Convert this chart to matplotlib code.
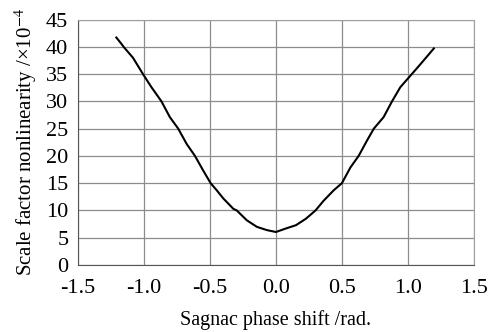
"""Scale factor nonlinearity versus Sagnac phase shift."""
import matplotlib

matplotlib.use("Agg")
import matplotlib.pyplot as plt

# values
phase = [-1.21, -1.17, -1.155, -1.084, -1.008, -0.944, -0.868, -0.804, -0.741,
         -0.677, -0.614, -0.551, -0.495, -0.449, -0.399, -0.323, -0.297, -0.221,
         -0.145, -0.069, 0.0, 0.076, 0.152, 0.228, 0.30, 0.362, 0.438, 0.50,
         0.565, 0.627, 0.69, 0.742, 0.816, 0.88, 0.943, 1.03, 1.095, 1.197]
nonlin = [41.7, 40.5, 40.0, 38.0, 35.0, 32.6, 30.0, 27.1, 25.0,
          22.2, 20.0, 17.3, 15.0, 13.7, 12.2, 10.3, 10.0, 8.2,
          7.0, 6.4, 6.05, 6.7, 7.3, 8.5, 10.0, 11.8, 13.7, 15.0,
          17.9, 20.0, 22.8, 25.0, 27.1, 30.0, 32.6, 35.0, 36.8, 39.7]
xticks = [-1.5, -1.0, -0.5, 0.0, 0.5, 1.0, 1.5]
yticks = [0, 5, 10, 15, 20, 25, 30, 35, 40, 45]

plt.rcParams.update({
    "font.family": ["Liberation Serif", "DejaVu Serif"],
    "mathtext.fontset": "stix",
    "font.size": 14,
})

fig = plt.figure(figsize=(4.91, 3.32), dpi=100)
ax = fig.add_axes([0.159, 0.2018, 0.806, 0.7394])

ax.plot(phase, nonlin, color="black", linewidth=1.5)

ax.set_xlim(-1.5, 1.5)
ax.set_ylim(0, 45)
ax.set_xticks(xticks)
ax.set_xticklabels(["{:.1f}".format(v) for v in xticks])
ax.set_yticks(yticks)
ax.grid(True, color="#8c8c8c", linewidth=0.9)
ax.set_axisbelow(True)
ax.tick_params(length=0, labelsize=16)
ax.tick_params(axis="x", pad=10)
ax.tick_params(axis="y", pad=7)
for side in ("top", "right"):
    ax.spines[side].set_color("#a0a0a0")
for side in ("left", "bottom"):
    ax.spines[side].set_color("#555555")

ax.set_xlabel("Sagnac phase shift /rad.", fontsize=14.5, labelpad=9)
ax.set_ylabel("Scale factor nonlinearity /×10$^{-4}$", fontsize=15, labelpad=5)

fig.savefig("out.png", dpi=100)
